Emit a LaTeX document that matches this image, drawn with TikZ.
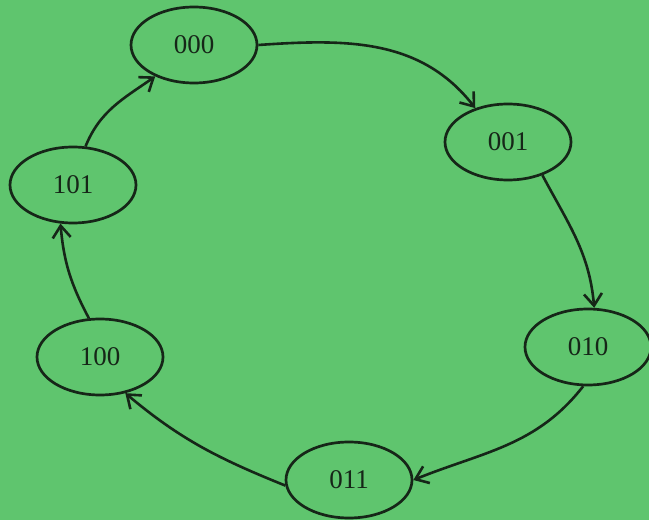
\documentclass[tikz,border=0pt]{standalone}
\usepackage{fontspec}
\setmainfont{Liberation Serif}
\usetikzlibrary{shapes.geometric,arrows.meta}
\definecolor{paper}{RGB}{95,197,110}
\definecolor{ink}{RGB}{22,38,24}
\tikzset{
  state/.style={ellipse, draw=ink, line width=2.7pt, minimum width=126pt,
    minimum height=76pt, inner sep=0pt, text=ink, font=\fontsize{27}{31}\selectfont},
  trans/.style={draw=ink, line width=2.6pt,
    -{Straight Barb[length=12pt,width=18pt,line width=2.6pt]}}
}
\begin{document}
\begin{tikzpicture}[x=1pt,y=1pt]
  \fill[paper] (0,0) rectangle (649,520);
  \useasboundingbox (0,0) rectangle (649,520);

  \node[state] (s000) at (194,475) {000};
  \node[state] (s001) at (508,378) {001};
  \node[state] (s010) at (588,173) {010};
  \node[state] (s011) at (349,40) {011};
  \node[state] (s100) at (100,163) {100};
  \node[state] (s101) at (73,335) {101};

  \draw[trans] (s000.east) to[out=4,in=128] (s001.134);
  \draw[trans] (s001.-44) to[out=-62,in=95] (s010.81);
  \draw[trans] (s010.263) to[out=-128,in=22] (s011.east);
  \draw[trans] (s011.185) to[out=158,in=-40] (s100.-55);
  \draw[trans] (s100.106) to[out=118,in=-85] (s101.252);
  \draw[trans] (s101.72) to[out=68,in=215] (s000.219);
\end{tikzpicture}
\end{document}
